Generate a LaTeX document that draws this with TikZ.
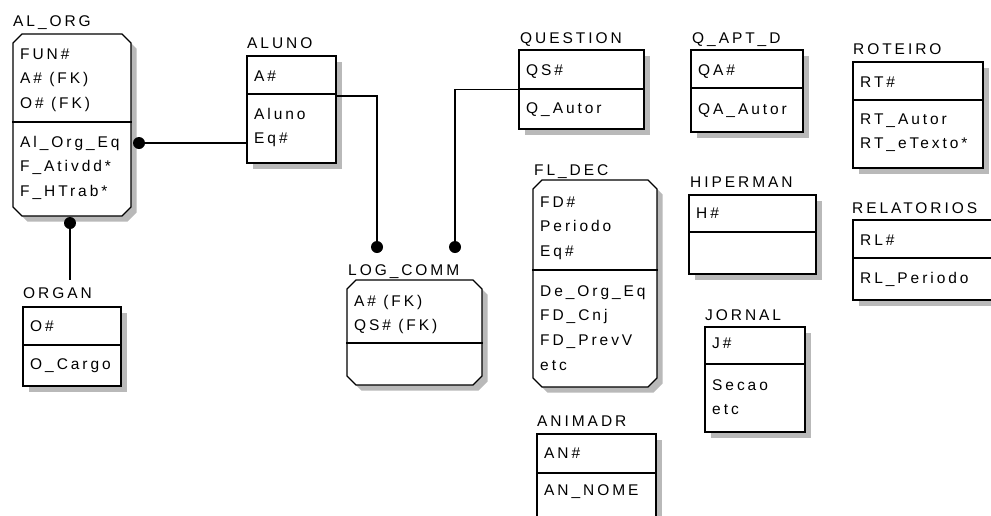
\documentclass[tikz,border=0pt]{standalone}
\usepackage{fontspec}
\setmainfont{Liberation Sans}[LetterSpace=19]
\usetikzlibrary{fit,shadows,shapes.misc}
\tikzset{
	entity/.style={draw, line width=1.2pt, fill=white, inner sep=0pt,
		drop shadow={shadow xshift=5.5pt, shadow yshift=-5.5pt, fill=gray!55, opacity=1}},
	depentity/.style={entity, chamfered rectangle, chamfered rectangle xsep=4.5pt,
		chamfered rectangle ysep=4.5pt},
	ename/.style={anchor=base west, inner sep=0pt, font=\fontsize{15.5}{24.7}\selectfont},
	attr/.style={anchor=base west, inner sep=0pt, align=left,
		font=\fontsize{15.5}{24.7}\selectfont},
	divider/.style={line width=1.2pt},
	rel/.style={line width=1.2pt},
	dot/.style={circle, fill=black, inner sep=0pt, minimum size=12pt}
}
\begin{document}
\begin{tikzpicture}[x=1pt, y=-1pt]
	\useasboundingbox (0,0) rectangle (991,515);
	
	%% -- AL_ORG (multi-line nodes sit on their last baseline)
	\node[depentity, fit={(17.5,38.5) (126.5,211.5)}] (alorg) {};
	\node[ename] (alorg-name) at (13,26) {AL\_ORG};
	\draw[divider] (alorg.west |- 0,122) -- (alorg.east |- 0,122);
	\node[attr] (alorg-pk) at (20,108.4) {FUN\#\\A\# (FK)\\O\# (FK)};
	\node[attr] (alorg-at) at (20,196.4) {Al\_Org\_Eq\\F\_Ativdd*\\F\_HTrab*};
	
	%% -- ORGAN
	\node[entity, fit={(23,307) (121,386)}] (organ) {};
	\node[ename] (organ-name) at (23,298) {ORGAN};
	\draw[divider] (organ.west |- 0,345) -- (organ.east |- 0,345);
	\node[attr] (organ-pk) at (30,331) {O\#};
	\node[attr] (organ-at) at (30,369) {O\_Cargo};
	
	%% -- ALUNO
	\node[entity, fit={(247,56) (336,163)}] (aluno) {};
	\node[ename] (aluno-name) at (247,48) {ALUNO};
	\draw[divider] (aluno.west |- 0,94) -- (aluno.east |- 0,94);
	\node[attr] (aluno-pk) at (254,81) {A\#};
	\node[attr] (aluno-at) at (254,143.7) {Aluno\\Eq\#};
	
	%% -- LOG_COMM
	\node[depentity, fit={(351.5,284.5) (477.5,380.5)}] (logcomm) {};
	\node[ename] (logcomm-name) at (348,275) {LOG\_COMM};
	\draw[divider] (logcomm.west |- 0,343) -- (logcomm.east |- 0,343);
	\node[attr] (logcomm-pk) at (354,330.7) {A\# (FK)\\QS\# (FK)};
	
	%% -- QUESTION
	\node[entity, fit={(519,50) (644,129)}] (question) {};
	\node[ename] (question-name) at (520,43) {QUESTION};
	\draw[divider] (question.west |- 0,89) -- (question.east |- 0,89);
	\node[attr] (question-pk) at (526,75) {QS\#};
	\node[attr] (question-at) at (526,113) {Q\_Autor};
	
	%% -- Q_APT_D
	\node[entity, fit={(691,50) (803,132)}] (qaptd) {};
	\node[ename] (qaptd-name) at (692,43) {Q\_APT\_D};
	\draw[divider] (qaptd.west |- 0,88) -- (qaptd.east |- 0,88);
	\node[attr] (qaptd-pk) at (698,75) {QA\#};
	\node[attr] (qaptd-at) at (698,114) {QA\_Autor};
	
	%% -- ROTEIRO
	\node[entity, fit={(853,62) (983,168)}] (roteiro) {};
	\node[ename] (roteiro-name) at (853,54) {ROTEIRO};
	\draw[divider] (roteiro.west |- 0,100) -- (roteiro.east |- 0,100);
	\node[attr] (roteiro-pk) at (860,87) {RT\#};
	\node[attr] (roteiro-at) at (860,148.7) {RT\_Autor\\RT\_eTexto*};
	
	%% -- RELATORIOS
	\node[entity, fit={(853,220) (996,300)}] (relat) {};
	\node[ename] (relat-name) at (852,213) {RELATORIOS};
	\draw[divider] (relat.west |- 0,258) -- (relat.east |- 0,258);
	\node[attr] (relat-pk) at (860,245) {RL\#};
	\node[attr] (relat-at) at (860,283) {RL\_Periodo};
	
	%% -- FL_DEC
	\node[depentity, fit={(537.5,184.5) (652.5,382.5)}] (fldec) {};
	\node[ename] (fldec-name) at (534,175) {FL\_DEC};
	\draw[divider] (fldec.west |- 0,270) -- (fldec.east |- 0,270);
	\node[attr] (fldec-pk) at (540,256.4) {FD\#\\Periodo\\Eq\#};
	\node[attr] (fldec-at) at (540,370.1) {De\_Org\_Eq\\FD\_Cnj\\FD\_PrevV\\etc};
	
	%% -- HIPERMAN
	\node[entity, fit={(689,195) (816,274)}] (hiper) {};
	\node[ename] (hiper-name) at (690,187) {HIPERMAN};
	\draw[divider] (hiper.west |- 0,232) -- (hiper.east |- 0,232);
	\node[attr] (hiper-pk) at (696,218) {H\#};
	
	%% -- JORNAL
	\node[entity, fit={(705,327) (805,432)}] (jornal) {};
	\node[ename] (jornal-name) at (705,320) {JORNAL};
	\draw[divider] (jornal.west |- 0,364) -- (jornal.east |- 0,364);
	\node[attr] (jornal-pk) at (712,348) {J\#};
	\node[attr] (jornal-at) at (712,414.7) {Secao\\etc};
	
	%% -- ANIMADR
	\node[entity, fit={(537,434) (656,522)}] (animadr) {};
	\node[ename] (animadr-name) at (537,426) {ANIMADR};
	\draw[divider] (animadr.west |- 0,473) -- (animadr.east |- 0,473);
	\node[attr] (animadr-pk) at (544,458) {AN\#};
	\node[attr] (animadr-at) at (544,495) {AN\_NOME};
	
	%% -- Relationships
	\node[dot] (d1) at (139,143) {};
	\node[dot] (d2) at (70,223) {};
	\node[dot] (d3) at (377,247) {};
	\node[dot] (d4) at (455,247) {};
	\coordinate (d2end) at (70,280);
	
	\draw[rel] (d1.center) -- (d1 -| aluno.west);
	\draw[rel] (d2.center) -- (d2end);
	\draw[rel] (d3.center) |- ([yshift=13.5pt]aluno.east);
	\draw[rel] (d4.center) |- (question.west);
	
\end{tikzpicture}
\end{document}
